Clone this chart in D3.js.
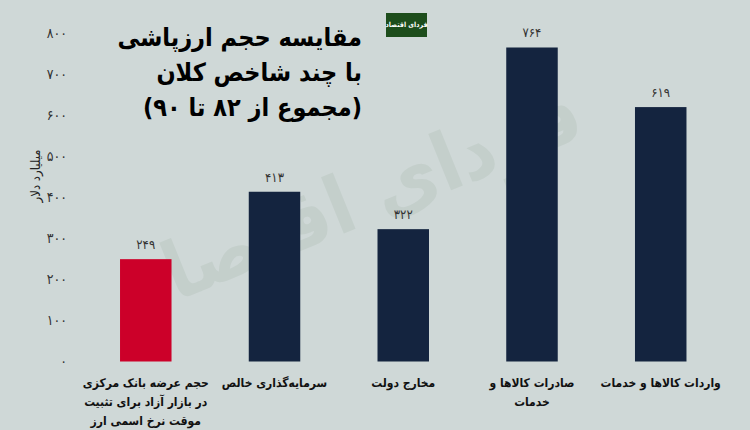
<!DOCTYPE html>
<html><head><meta charset="utf-8">
<script src="https://cdn.jsdelivr.net/npm/d3@7/dist/d3.min.js"></script>
<style>
html,body{margin:0;padding:0;background:#cfd8d7;}
svg{display:block;}
text{font-family:"DejaVu Sans Condensed","DejaVu Sans",sans-serif;}
</style></head>
<body>
<svg id="chart" width="750" height="430"></svg>
<script>
const categories = [
  ["حجم عرضه بانک مرکزی","در بازار آزاد برای تثبیت","موقت نرخ اسمی ارز"],
  ["سرمایه‌گذاری خالص"],
  ["مخارج دولت"],
  ["صادرات کالاها و","خدمات"],
  ["واردات کالاها و خدمات"]
];
const values = [249, 413, 322, 764, 619];
const barColors = ["#cc0029", "#14243f", "#14243f", "#14243f", "#14243f"];
const yTicks = [0, 100, 200, 300, 400, 500, 600, 700, 800];
const titleLines = ["مقایسه حجم ارزپاشی", "با چند شاخص کلان", "(مجموع از ۸۲ تا ۹۰)"];
const yLabel = "میلیارد دلار";
const logoText = "فردای اقتصاد";

const fa = s => String(s).replace(/\d/g, d => "۰۱۲۳۴۵۶۷۸۹"[d]);

const svg = d3.select("#chart");
svg.append("rect").attr("width",750).attr("height",430).attr("fill","#cfd8d7");

// watermark
svg.append("text")
  .attr("transform","translate(365,225) rotate(-22)")
  .attr("text-anchor","middle")
  .attr("font-size",80)
  .attr("font-weight","bold")
  .attr("fill","#c4cfcb")
  .style("direction","rtl")
  .text(logoText);

const x = d3.scaleBand().domain(d3.range(values.length)).range([81.4, 725.1]).paddingInner(0.6).paddingOuter(0.3);
const y = d3.scaleLinear().domain([0, 800]).range([361.5, 32.7]);

// y axis ticks (no line)
const yAxis = d3.axisLeft(y).tickValues(yTicks).tickSize(0).tickPadding(0).tickFormat(fa);
const gy = svg.append("g").attr("transform","translate(67,0)").call(yAxis);
gy.select(".domain").remove();
gy.selectAll("text").attr("font-size",14).attr("fill","#333").style("font-family","DejaVu Sans Condensed");

// y label
svg.append("text")
  .attr("transform","translate(40,176) rotate(-90)")
  .attr("text-anchor","middle")
  .attr("font-size",13)
  .attr("fill","#222")
  .text(yLabel);

// bars
svg.append("g").selectAll("rect").data(values).join("rect")
  .attr("x",(d,i)=>x(i)).attr("width",x.bandwidth())
  .attr("y",d=>y(d)).attr("height",d=>y(0)-y(d))
  .attr("fill",(d,i)=>barColors[i]);

// value labels
svg.append("g").selectAll("text").data(values).join("text")
  .attr("x",(d,i)=>x(i)+x.bandwidth()/2)
  .attr("y",d=>y(d)-10)
  .attr("text-anchor","middle")
  .attr("font-size",13)
  .attr("fill","#333")
  .text(d=>fa(d));

// x category labels
const xl = svg.append("g").selectAll("text").data(categories).join("text")
  .attr("x",(d,i)=>x(i)+x.bandwidth()/2)
  .attr("y",387)
  .attr("text-anchor","middle")
  .attr("font-size",12)
  .attr("font-weight","bold")
  .attr("fill","#111")
  .style("direction","rtl");
xl.selectAll("tspan").data(d=>d).join("tspan")
  .attr("x",function(){return this.parentNode.getAttribute("x");})
  .attr("dy",(d,j)=>j===0?0:19)
  .text(d=>d);

// title
svg.append("g").selectAll("text").data(titleLines).join("text")
  .attr("x",362)
  .attr("y",(d,i)=>46+i*35)
  .attr("text-anchor","start")
  .style("direction","rtl")
  .attr("font-size",25)
  .attr("font-weight","bold")
  .attr("fill","#000")
  .text(d=>d);

// logo
svg.append("rect").attr("x",386).attr("y",13).attr("width",41).attr("height",24).attr("fill","#1d4d1b");
svg.append("text").attr("x",406.5).attr("y",27).attr("text-anchor","middle")
  .attr("font-size",7).attr("font-weight","bold").attr("fill","#fff").style("direction","rtl").text(logoText);
</script>
</body></html>
